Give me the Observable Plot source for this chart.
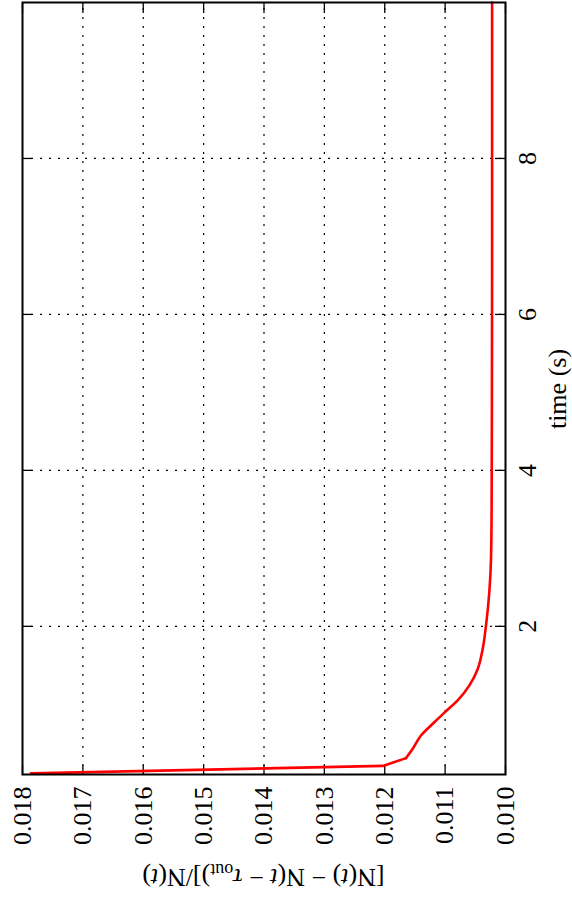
<!DOCTYPE html>
<html>
<head>
<meta charset="utf-8">
<script src="https://cdn.jsdelivr.net/npm/d3@7"></script>
<script src="https://cdn.jsdelivr.net/npm/@observablehq/plot@0.6"></script>
<style>
  html, body { margin: 0; padding: 0; background: #fff; overflow: hidden; }
  #wrap {
    position: absolute; left: 0; top: 0;
    width: 902px; height: 572px;
    transform-origin: 0 0;
    transform: translateY(902px) rotate(-90deg);
  }
  #wrap svg { display: block; }
</style>
</head>
<body>
<div id="wrap"></div>
<script>
// Time (s)
const time = [0.115, 0.21, 0.31, 0.43, 0.60, 0.77, 0.90, 1.05, 1.24, 1.45, 1.71, 2.01, 2.44, 2.86, 3.5, 5.0, 7.0, 10.0];
// [N(t) - N(t - tau_out)] / N(t)
const ratio = [0.01786, 0.01203, 0.011648, 0.011537, 0.011400, 0.011179, 0.011002, 0.010792, 0.010600, 0.010461, 0.010378, 0.010323, 0.010268, 0.010240, 0.010230, 0.010225, 0.010222, 0.010222];

const xTicks = [2, 4, 6, 8];
const yTicks = [0.010, 0.011, 0.012, 0.013, 0.014, 0.015, 0.016, 0.017, 0.018];
const yGrid = [0.011, 0.012, 0.013, 0.014, 0.015, 0.016, 0.017];

const data = time.map((t, i) => ({t, r: ratio[i]}));
const head = data.slice(0, 3);   // sharp initial drop (straight segments)
const tail = data.slice(2);      // smooth relaxation

const W = 902, H = 572;
const mL = 127, mR = 3, mT = 22, mB = 67;
const pw = W - mL - mR, ph = H - mT - mB;
const tickLen = 10;
const font = "'Liberation Serif', 'Times New Roman', 'DejaVu Serif', serif";
const dash = "2,7";
const lineStyle = {x: "t", y: "r", stroke: "#ff0000", strokeWidth: 2.6, strokeLinejoin: "round", strokeLinecap: "round"};

const chart = Plot.plot({
  width: W, height: H,
  marginLeft: mL, marginRight: mR, marginTop: mT, marginBottom: mB,
  style: {fontFamily: font, fontSize: "26px", background: "white", color: "black"},
  x: {domain: [0.1, 10]},
  y: {domain: [0.010, 0.018]},
  marks: [
    Plot.gridX(xTicks, {stroke: "black", strokeOpacity: 1, strokeWidth: 1.2, strokeDasharray: dash}),
    Plot.gridY(yGrid, {stroke: "black", strokeOpacity: 1, strokeWidth: 1.2, strokeDasharray: dash}),
    Plot.tickX(xTicks, {x: d => d, insetTop: ph - tickLen, stroke: "black", strokeWidth: 1.3}),
    Plot.tickX(xTicks, {x: d => d, insetBottom: ph - tickLen, stroke: "black", strokeWidth: 1.3}),
    Plot.tickY(yTicks, {y: d => d, insetRight: pw - tickLen, stroke: "black", strokeWidth: 1.3}),
    Plot.tickY(yTicks, {y: d => d, insetLeft: pw - tickLen, stroke: "black", strokeWidth: 1.3}),
    Plot.axisX({ticks: xTicks, tickSize: 0, tickPadding: 12, label: null, fontSize: 26, tickFormat: d => String(d)}),
    Plot.axisY({ticks: yTicks, tickSize: 0, tickPadding: 12, label: null, fontSize: 26, tickFormat: d3.format(".3f")}),
    Plot.line(head, {...lineStyle, curve: "linear"}),
    Plot.line(tail, {...lineStyle, curve: "monotone-x"}),
    Plot.frame({stroke: "black", strokeWidth: 2})
  ]
});

const svg = d3.select(chart);
// x-axis label
svg.append("text")
  .attr("x", mL + pw / 2).attr("y", 566)
  .attr("text-anchor", "middle")
  .style("font-family", font).style("font-size", "26px").attr("fill", "black")
  .text("time (s)");
// y-axis label
const yl = svg.append("text")
  .attr("transform", `translate(33,${mT + ph / 2}) rotate(-90)`)
  .attr("text-anchor", "middle")
  .style("font-family", font).style("font-size", "26px").attr("fill", "black");
yl.append("tspan").text("[N(");
yl.append("tspan").attr("font-style", "italic").text("t");
yl.append("tspan").text(") \u2212 N(");
yl.append("tspan").attr("font-style", "italic").text("t");
yl.append("tspan").text(" \u2212 ");
yl.append("tspan").attr("font-style", "italic").text("\u03c4");
yl.append("tspan").attr("font-size", "18px").attr("dy", "5").text("out");
yl.append("tspan").attr("dy", "-5").text(")]/N(");
yl.append("tspan").attr("font-style", "italic").text("t");
yl.append("tspan").text(")");

document.getElementById("wrap").appendChild(chart);
</script>
</body>
</html>
